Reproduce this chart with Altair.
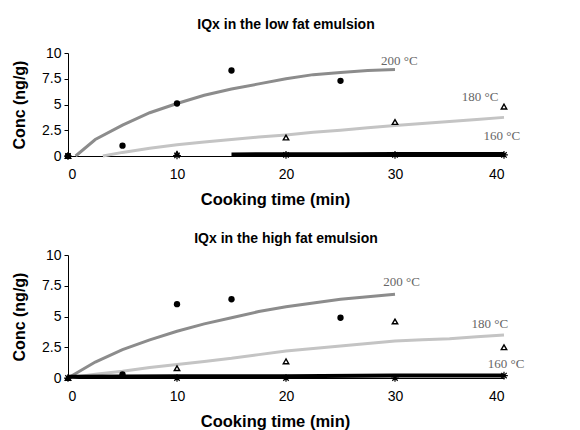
import altair as alt
import pandas as pd

# ---------------- data ----------------
# Low fat emulsion: measured points
low_t200 = [0, 5, 10, 15, 25]
low_c200 = [0, 1.0, 5.1, 8.3, 7.3]
low_t180 = [0, 10, 20, 30, 40]
low_c180 = [0, 0.2, 1.8, 3.3, 4.8]
low_t160 = [0, 10, 20, 30, 40]
low_c160 = [0, 0.05, 0.1, 0.1, 0.1]
# Low fat emulsion: fitted curves
low_fit200_t = [0.7, 2.5, 5, 7.5, 10, 12.5, 15, 17.5, 20, 22.5, 25, 27.5, 30]
low_fit200_c = [0, 1.6, 3.0, 4.2, 5.1, 5.9, 6.5, 7.0, 7.5, 7.9, 8.1, 8.3, 8.4]
low_fit180_t = [3.2, 5, 7.5, 10, 12.5, 15, 17.5, 20, 22.5, 25, 27.5, 30, 32.5, 35, 37.5, 40]
low_fit180_c = [0, 0.35, 0.75, 1.1, 1.35, 1.6, 1.85, 2.05, 2.3, 2.5, 2.75, 2.95, 3.15, 3.35, 3.55, 3.75]
low_fit160_t = [15, 20, 25, 30, 35, 40]
low_fit160_c = [0.15, 0.17, 0.18, 0.2, 0.2, 0.2]

# High fat emulsion: measured points
high_t200 = [5, 10, 15, 25]
high_c200 = [0.3, 6.0, 6.4, 4.9]
high_t180 = [0, 10, 20, 30, 40]
high_c180 = [0, 0.8, 1.35, 4.6, 2.5]
high_t160 = [0, 10, 20, 30, 40]
high_c160 = [0, 0, 0, 0, 0.2]
# High fat emulsion: fitted curves
high_fit200_t = [0, 2.5, 5, 7.5, 10, 12.5, 15, 17.5, 20, 22.5, 25, 27.5, 30]
high_fit200_c = [0, 1.3, 2.3, 3.1, 3.8, 4.4, 4.9, 5.4, 5.8, 6.1, 6.4, 6.6, 6.8]
high_fit180_t = [0, 2.5, 5, 7.5, 10, 12.5, 15, 17.5, 20, 22.5, 25, 27.5, 30, 32.5, 35, 37.5, 40]
high_fit180_c = [0, 0.3, 0.55, 0.85, 1.1, 1.35, 1.6, 1.9, 2.2, 2.4, 2.6, 2.8, 3.0, 3.1, 3.2, 3.35, 3.5]
high_fit160_t = [0, 10, 20, 30, 40]
high_fit160_c = [0.1, 0.15, 0.15, 0.2, 0.2]

# Curve labels
label_text = ["200 °C", "180 °C", "160 °C"]
low_label_t = [30.4, 37.8, 39.8]
low_label_c = [9.2, 5.7, 1.9]
high_label_t = [30.6, 38.7, 40.2]
high_label_c = [7.8, 4.4, 1.1]

x_ticks = [0, 10, 20, 30, 40]
y_ticks = [0, 2.5, 5, 7.5, 10]

GREY200 = "#8c8c8c"
GREY180 = "#c4c4c4"
ASTERISK = "M-1,0L1,0M0,-1L0,1M-0.7,-0.7L0.7,0.7M-0.7,0.7L0.7,-0.7"


def df(t, c):
    return pd.DataFrame({"t": t, "c": c})


def panel(title, pts, fits, labels, w, h, title_offset):
    x = alt.X("t:Q", scale=alt.Scale(domain=[0, 40], nice=False),
              axis=alt.Axis(values=x_ticks, title="Cooking time (min)", ticks=False,
                            grid=False, labelFontSize=14, labelPadding=11,
                            titleFontSize=16.5, titleFontWeight="bold", titlePadding=10,
                            titleX=207, titleAlign="center",
                            domainColor="black", labelColor="black", titleColor="black"))
    y = alt.Y("c:Q", scale=alt.Scale(domain=[0, 10], nice=False),
              axis=alt.Axis(values=y_ticks, title="Conc (ng/g)", grid=False,
                            labelExpr="'' + datum.value", tickSize=4, labelPadding=3,
                            labelFontSize=14, titleFontSize=16, titleFontWeight="bold",
                            titlePadding=14, domainColor="black", tickColor="black",
                            labelColor="black", titleColor="black"))
    (f200, f180, f160) = fits
    (p200, p180, p160) = pts
    layers = [
        alt.Chart(f180).mark_line(color=GREY180, strokeWidth=3).encode(x=x, y=y),
        alt.Chart(f200).mark_line(color=GREY200, strokeWidth=3).encode(x=x, y=y),
        alt.Chart(f160).mark_line(color="black", strokeWidth=4).encode(x=x, y=y),
        alt.Chart(p200).mark_point(shape="circle", filled=True, color="black",
                                   size=40, opacity=1).encode(x=x, y=y),
        alt.Chart(p180).mark_point(shape="triangle-up", filled=False, color="black",
                                   size=30, strokeWidth=1.4, opacity=1).encode(x=x, y=y),
        alt.Chart(p160).mark_point(shape=ASTERISK, filled=False, color="black",
                                   size=60, strokeWidth=1.2, opacity=1).encode(x=x, y=y),
        alt.Chart(labels).mark_text(font="Liberation Serif", fontSize=13,
                                    color="#666666", align="center").encode(
            x=x, y=y, text="label:N"),
    ]
    return alt.layer(*layers).properties(
        width=w, height=h,
        title=alt.Title(title, fontSize=14, fontWeight="bold", offset=title_offset,
                        color="black", font="Liberation Sans"))


low = panel("IQx in the low fat emulsion",
            (df(low_t200, low_c200), df(low_t180, low_c180), df(low_t160, low_c160)),
            (df(low_fit200_t, low_fit200_c), df(low_fit180_t, low_fit180_c),
             df(low_fit160_t, low_fit160_c)),
            pd.DataFrame({"t": low_label_t, "c": low_label_c, "label": label_text}),
            436, 103, 14)
high = panel("IQx in the high fat emulsion",
             (df(high_t200, high_c200), df(high_t180, high_c180), df(high_t160, high_c160)),
             (df(high_fit200_t, high_fit200_c), df(high_fit180_t, high_fit180_c),
              df(high_fit160_t, high_fit160_c)),
             pd.DataFrame({"t": high_label_t, "c": high_label_c, "label": label_text}),
             436, 123, 2)

chart = alt.vconcat(low, high, spacing=24).properties(
    padding={"top": 10, "left": 3, "right": 5, "bottom": 5}
).configure(
    font="Liberation Sans"
).configure_view(stroke=None).configure_axis(labelFont="Liberation Sans",
                                              titleFont="Liberation Sans")

chart.save("out.html", embed_options={"renderer": "svg", "actions": False})
